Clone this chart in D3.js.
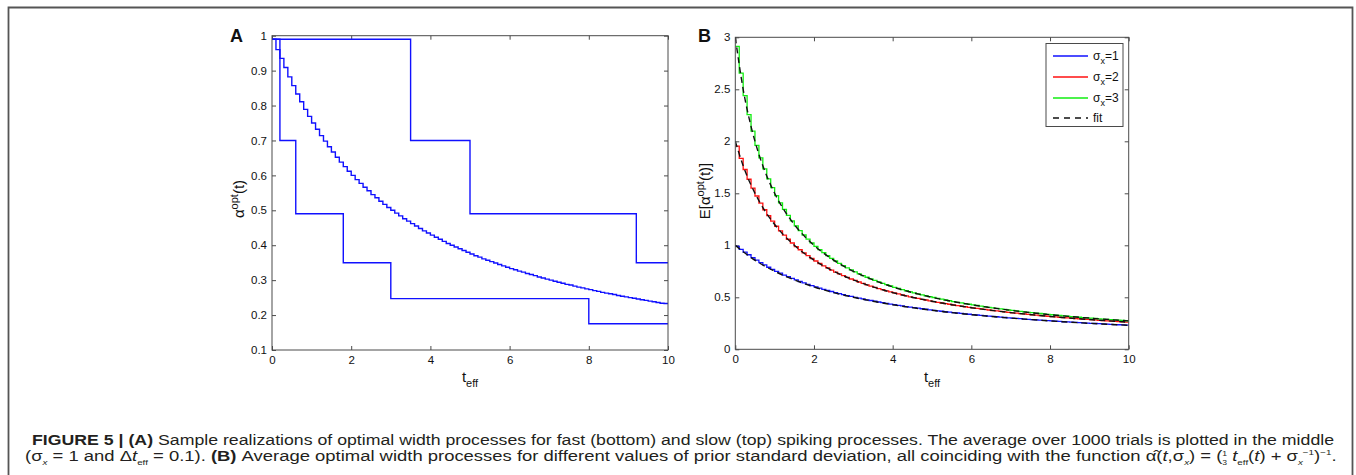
<!DOCTYPE html>
<html><head><meta charset="utf-8">
<script src="https://cdn.jsdelivr.net/npm/d3@7"></script>
<style>
body{margin:0;background:#fff}
svg{display:block}
text{font-family:"Liberation Sans",Arial,Helvetica,sans-serif}
</style>
</head><body>
<svg id="c" width="1356" height="475"></svg>
<script>
// ---------- DATA ----------
const xTicks = [0, 2, 4, 6, 8, 10];
const yTicksA = [0.1, 0.2, 0.3, 0.4, 0.5, 0.6, 0.7, 0.8, 0.9, 1];
const yTicksB = [0, 0.5, 1, 1.5, 2, 2.5, 3];
const dt = 0.1;

// Panel A: fast (bottom) and slow (top) realizations (step breakpoints)
const fastT = [0, 0.2, 0.6, 1.8, 3.0, 8.0];
const fastV = [0.99, 0.70, 0.49, 0.35, 0.247, 0.175];
const slowT = [0, 3.5, 5.0, 9.2];
const slowV = [0.99, 0.70, 0.49, 0.35];

// average over trials (sigma_x = 1), one value per 0.1 step
const avgV = [0.990,0.960,0.935,0.909,0.882,0.857,0.833,0.811,0.789,0.769,
0.750,0.732,0.714,0.698,0.682,0.667,0.652,0.638,0.625,0.612,
0.600,0.588,0.577,0.566,0.556,0.545,0.536,0.526,0.517,0.508,
0.500,0.492,0.484,0.476,0.469,0.462,0.455,0.448,0.441,0.435,
0.429,0.423,0.417,0.411,0.405,0.400,0.395,0.390,0.385,0.380,
0.375,0.370,0.366,0.361,0.357,0.353,0.349,0.345,0.341,0.337,
0.333,0.330,0.326,0.323,0.319,0.316,0.313,0.309,0.306,0.303,
0.300,0.297,0.294,0.291,0.288,0.286,0.283,0.280,0.278,0.275,
0.273,0.270,0.268,0.265,0.263,0.261,0.259,0.256,0.254,0.252,
0.250,0.248,0.246,0.244,0.242,0.240,0.238,0.236,0.234,0.233];

// Panel B
const sigma1V = avgV;
const sigma2V = [1.954,1.835,1.729,1.635,1.550,1.474,1.405,1.342,1.285,1.232,
1.183,1.139,1.097,1.058,1.022,0.988,0.957,0.927,0.900,0.873,
0.849,0.825,0.803,0.782,0.762,0.743,0.726,0.708,0.692,0.676,
0.662,0.647,0.634,0.620,0.608,0.596,0.584,0.573,0.562,0.552,
0.542,0.532,0.523,0.514,0.505,0.497,0.489,0.481,0.474,0.466,
0.459,0.452,0.445,0.439,0.433,0.426,0.420,0.415,0.409,0.403,
0.398,0.393,0.388,0.383,0.378,0.373,0.369,0.364,0.360,0.356,
0.351,0.347,0.343,0.340,0.336,0.332,0.328,0.325,0.321,0.318,
0.315,0.311,0.308,0.305,0.302,0.299,0.296,0.293,0.290,0.287,
0.285,0.282,0.279,0.277,0.274,0.272,0.269,0.267,0.265,0.262];
const sigma3V = [2.913,2.655,2.439,2.256,2.098,1.961,1.840,1.734,1.639,1.554,
1.478,1.408,1.345,1.288,1.235,1.186,1.141,1.099,1.060,1.024,
0.990,0.958,0.929,0.901,0.875,0.850,0.826,0.804,0.783,0.763,
0.744,0.726,0.709,0.693,0.677,0.662,0.648,0.634,0.621,0.609,
0.596,0.585,0.574,0.563,0.552,0.542,0.533,0.524,0.515,0.506,
0.498,0.489,0.482,0.474,0.467,0.459,0.452,0.446,0.439,0.433,
0.427,0.421,0.415,0.409,0.404,0.398,0.393,0.388,0.383,0.378,
0.374,0.369,0.365,0.360,0.356,0.352,0.348,0.344,0.340,0.336,
0.332,0.329,0.325,0.322,0.318,0.315,0.312,0.308,0.305,0.302,
0.299,0.296,0.293,0.290,0.288,0.285,0.282,0.280,0.277,0.274];

// fit curves (sampled)
const fitT  = [0, 0.2, 0.4, 0.6, 0.8, 1, 1.25, 1.5, 2, 2.5, 3, 3.5, 4, 5, 6, 7, 8, 9, 10];
const fit1V = [1, 0.938, 0.882, 0.833, 0.789, 0.75, 0.706, 0.667, 0.6, 0.545, 0.5, 0.462, 0.429, 0.375, 0.333, 0.3, 0.273, 0.25, 0.231];
const fit2V = [2, 1.765, 1.579, 1.429, 1.304, 1.2, 1.091, 1.0, 0.857, 0.75, 0.667, 0.6, 0.545, 0.462, 0.4, 0.353, 0.316, 0.286, 0.261];
const fit3V = [3, 2.5, 2.143, 1.875, 1.667, 1.5, 1.333, 1.2, 1.0, 0.857, 0.75, 0.667, 0.6, 0.5, 0.429, 0.375, 0.333, 0.3, 0.273];

const legendLabels = ["1", "2", "3"];

// ---------- DRAW ----------
const svg = d3.select("#c");
const axisCol = "#4a4a4a";

// frame
svg.append("path")
  .attr("d", "M8.5,480 L8.5,7.5 L1352.5,7.5 L1352.5,480")
  .attr("fill", "none").attr("stroke", "#555").attr("stroke-width", 1.8);

function panel(box, ydom, yticks, yfmt) {
  const x = d3.scaleLinear().domain([0, 10]).range([box.l, box.r]);
  const y = d3.scaleLinear().domain(ydom).range([box.b, box.t]);
  const g = svg.append("g");
  const st = sel => {
    sel.select(".domain").remove();
    sel.selectAll("line").attr("stroke", axisCol);
    sel.selectAll("text").attr("fill", "#111").attr("font-size", 11.5)
      .attr("font-family", "'Liberation Sans',Arial,sans-serif");
  };
  g.append("g").attr("transform", `translate(0,${box.b})`)
    .call(d3.axisBottom(x).tickValues(xTicks).tickSizeInner(-4).tickSizeOuter(0).tickPadding(6).tickFormat(d3.format("d"))).call(st);
  g.append("g").attr("transform", `translate(0,${box.t})`)
    .call(d3.axisTop(x).tickValues(xTicks).tickSizeInner(-4).tickSizeOuter(0).tickFormat("")).call(st);
  g.append("g").attr("transform", `translate(${box.l},0)`)
    .call(d3.axisLeft(y).tickValues(yticks).tickSizeInner(-4).tickSizeOuter(0).tickPadding(5).tickFormat(yfmt)).call(st);
  g.append("g").attr("transform", `translate(${box.r},0)`)
    .call(d3.axisRight(y).tickValues(yticks).tickSizeInner(-4).tickSizeOuter(0).tickFormat("")).call(st);
  const clipId = "clip" + Math.round(box.l);
  svg.append("clipPath").attr("id", clipId).append("rect")
    .attr("x", box.l).attr("y", box.t).attr("width", box.r - box.l).attr("height", box.b - box.t);
  const plot = svg.append("g").attr("clip-path", `url(#${clipId})`);
  svg.append("rect").attr("x", box.l).attr("y", box.t)
    .attr("width", box.r - box.l).attr("height", box.b - box.t)
    .attr("fill", "none").attr("stroke", axisCol).attr("stroke-width", 1);
  return {x, y, plot, g};
}

function stepPts(ts, vs) {
  const p = ts.map((t, i) => [t, vs[i]]);
  p.push([10, vs[vs.length - 1]]);
  return p;
}
function gridPts(vs) {
  const p = vs.map((v, k) => [k * dt, v]);
  p.push([10, vs[vs.length - 1]]);
  return p;
}

// ---- Panel A ----
const A = panel({l: 272, r: 668, t: 35.7, b: 350}, [0.1, 1], yTicksA, d => d === 1 ? "1" : d3.format(".1f")(d));
const stepLineA = d3.line().x(d => A.x(d[0])).y(d => A.y(d[1])).curve(d3.curveStepAfter);
[stepPts(slowT, slowV), stepPts(fastT, fastV), gridPts(avgV)].forEach(p => {
  A.plot.append("path").attr("d", stepLineA(p)).attr("fill", "none")
    .attr("stroke", "#1010ff").attr("stroke-width", 1.4);
});

// ---- Panel B ----
const B = panel({l: 735.3, r: 1128.7, t: 37.3, b: 349.3}, [0, 3], yTicksB, d => String(d));
const stepLineB = d3.line().x(d => B.x(d[0])).y(d => B.y(d[1])).curve(d3.curveStepAfter);
const colors = ["#1010ff", "#ff1010", "#10ee10"];
[sigma1V, sigma2V, sigma3V].forEach((vs, i) => {
  B.plot.append("path").attr("d", stepLineB(gridPts(vs))).attr("fill", "none")
    .attr("stroke", colors[i]).attr("stroke-width", 1.3);
});
const fitLine = d3.line().x((d, i) => B.x(fitT[i])).y(d => B.y(d)).curve(d3.curveMonotoneX);
[fit1V, fit2V, fit3V].forEach(vs => {
  B.plot.append("path").attr("d", fitLine(vs)).attr("fill", "none")
    .attr("stroke", "#111").attr("stroke-width", 1.4).attr("stroke-dasharray", "6,4");
});

// legend
const lg = svg.append("g");
lg.append("rect").attr("x", 1046).attr("y", 43.5).attr("width", 77).attr("height", 83)
  .attr("fill", "#fff").attr("stroke", axisCol).attr("stroke-width", 1);
const rowsY = [56, 77, 98, 118];
legendLabels.forEach((lab, i) => {
  lg.append("line").attr("x1", 1053).attr("x2", 1088).attr("y1", rowsY[i]).attr("y2", rowsY[i])
    .attr("stroke", colors[i]).attr("stroke-width", 1.3);
  const t = lg.append("text").attr("x", 1093).attr("y", rowsY[i] + 4).attr("font-size", 12).attr("fill", "#111");
  t.append("tspan").text("σ");
  t.append("tspan").attr("font-size", 9).attr("dy", 4).text("x");
  t.append("tspan").attr("dy", -4).text("=" + lab);
});
lg.append("line").attr("x1", 1053).attr("x2", 1088).attr("y1", rowsY[3]).attr("y2", rowsY[3])
  .attr("stroke", "#111").attr("stroke-width", 1.3).attr("stroke-dasharray", "6,5");
lg.append("text").attr("x", 1093).attr("y", rowsY[3] + 4).attr("font-size", 12).attr("fill", "#111").text("fit");

// axis labels
function xlabel(cx, y) {
  const t = svg.append("text").attr("x", cx).attr("y", y).attr("text-anchor", "middle").attr("font-size", 15).attr("fill", "#111");
  t.append("tspan").text("t");
  t.append("tspan").attr("font-size", 11).attr("dy", 5).text("eff");
}
xlabel(470, 382);
xlabel(932, 382);

function ylabel(cx, cy, pre, post) {
  const t = svg.append("text").attr("transform", `translate(${cx},${cy}) rotate(-90)`)
    .attr("text-anchor", "middle").attr("font-size", 15).attr("fill", "#111");
  t.append("tspan").text(pre);
  t.append("tspan").attr("font-size", 11).attr("dy", -6).text("opt");
  t.append("tspan").attr("dy", 6).text(post);
}
ylabel(244, 199, "α", "(t)");
ylabel(710, 191, "E[α", "(t)]");

// panel letters
svg.append("text").attr("x", 230).attr("y", 41.5).attr("font-size", 18).attr("font-weight", "bold").attr("fill", "#111").text("A");
svg.append("text").attr("x", 698).attr("y", 41.5).attr("font-size", 18).attr("font-weight", "bold").attr("fill", "#111").text("B");

// caption
const line1 = [
  {t: "FIGURE 5 | (A)", b: 1},
  {t: " Sample realizations of optimal width processes for fast (bottom) and slow (top) spiking processes. The average over 1000 trials is plotted in the middle"}
];
const line2 = [
  {t: "(σ"}, {t: "x", i: 1, s: 4, f: 8}, {t: " = 1 and Δ"}, {t: "t", i: 1}, {t: "eff", s: 4, f: 8},
  {t: " = 0.1). "}, {t: "(B)", b: 1},
  {t: " Average optimal width processes for different values of prior standard deviation, all coinciding with the function "},
  {t: "α̂("}, {t: "t", i: 1}, {t: ",σ"}, {t: "x", i: 1, s: 4, f: 8}, {t: ") = ("},
  {t: "1", s: -5, f: 7}, {t: "3", s: 3.5, f: 7, dx: -3.9}, {t: " "}, {t: "t", i: 1}, {t: "eff", s: 4, f: 8},
  {t: "("}, {t: "t", i: 1}, {t: ") + σ"}, {t: "x", i: 1, s: 4, f: 8}, {t: "−1", s: -6, f: 8}, {t: ")"}, {t: "−1", s: -6, f: 8}, {t: "."}
];
function caption(segs, x0, x1, base) {
  const g = svg.append("g");
  const t = g.append("text").attr("x", 0).attr("y", 0).attr("font-size", 15)
    .attr("font-family", "'Liberation Sans',Arial,sans-serif")
    .attr("fill", "#231f20");
  let cur = 0;
  segs.forEach(s => {
    const sh = s.s || 0;
    const sp = t.append("tspan").attr("dy", sh - cur).text(s.t);
    cur = sh;
    if (s.b) sp.attr("font-weight", "bold");
    if (s.i) sp.attr("font-style", "italic");
    if (s.f) sp.attr("font-size", s.f);
    if (s.dx) sp.attr("dx", s.dx);
  });
  const w = t.node().getBBox().width;
  g.attr("transform", `translate(${x0},${base}) scale(${(x1 - x0) / w},1)`);
}
caption(line1, 32, 1335, 445);
caption(line2, 25, 1338, 461);
</script>
</body></html>
